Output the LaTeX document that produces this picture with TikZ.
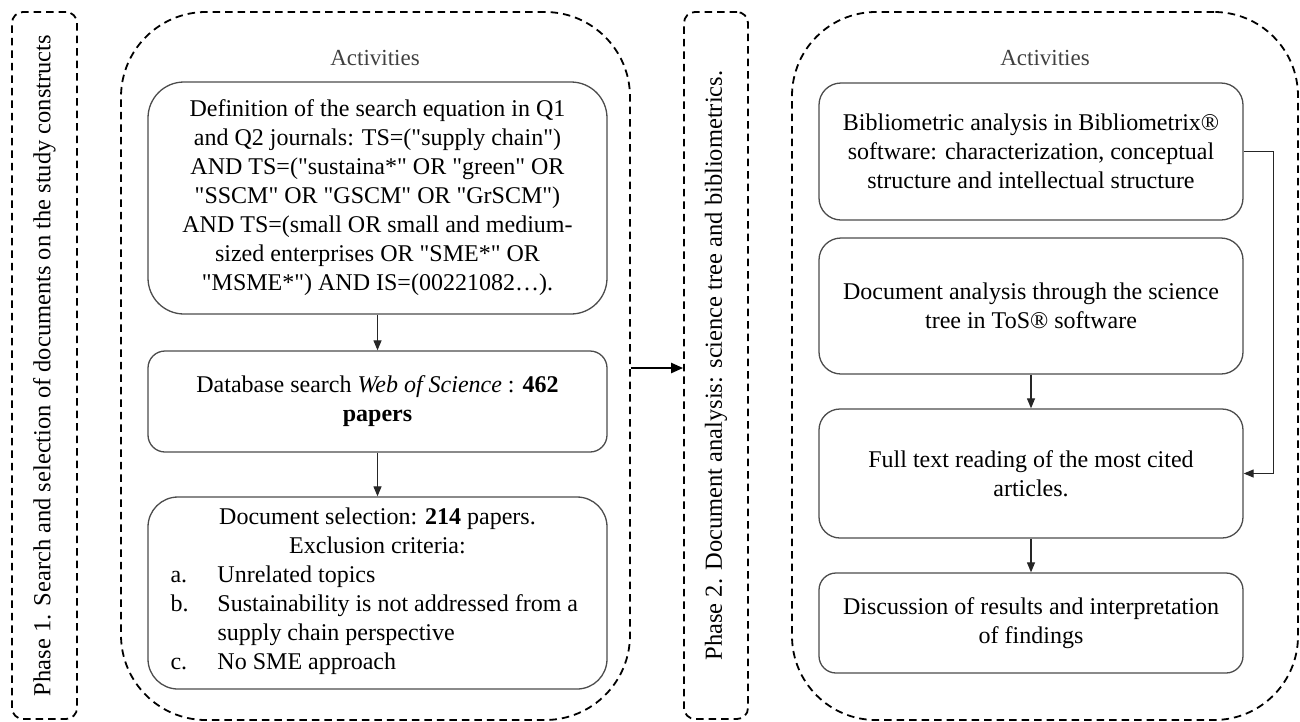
\documentclass[tikz,border=0pt]{standalone}
\usepackage{fontspec}
\setmainfont{Liberation Serif}[Ligatures=TeXOff]
\usetikzlibrary{arrows.meta,calc}
\begin{document}
\begin{tikzpicture}[x=1pt,y=-1pt,
 dashbox/.style={draw=black, line width=1.8pt, dash pattern=on 7.5pt off 5pt, inner sep=0pt},
 abox/.style={draw=black!70, line width=1.3pt, minimum width=459pt, inner sep=0pt, align=center, font=\fontsize{24}{29}\selectfont},
 bbox/.style={abox, minimum width=424pt},
 flow/.style={draw=black!85, line width=1.2pt, -{Triangle[length=10pt,width=8pt]}},
 titletext/.style={font=\fontsize{23}{28}\selectfont, text=black!75},
 phasefont/.style={font=\fontsize{24.5}{29}\selectfont}
]
\useasboundingbox (0,0) rectangle (1300,721);

% phase boxes
\node[dashbox, phasefont, rounded corners=11pt, minimum width=65pt, minimum height=707pt] (p1) at (44.5,365.5)
  {\rotatebox{90}{Phase 1. Search and selection of documents on the study constructs}};
\node[dashbox, phasefont, rounded corners=11pt, minimum width=64pt, minimum height=707pt] (p2) at (716,365.5)
  {\rotatebox{90}{Phase 2. Document analysis: science tree and bibliometrics.}};

% activity containers
\node[dashbox, rounded corners=85pt, minimum width=509pt, minimum height=708pt] (act1) at (375.5,366) {};
\node[dashbox, rounded corners=84pt, minimum width=506pt, minimum height=708pt] (act2) at (1045,366) {};
\node[titletext] (t1) at (375,58) {Activities};
\node[titletext] (t2) at (1045,58) {Activities};

% left column
\node[abox, rounded corners=36pt, minimum height=232pt] (a1) at (377.5,198)
  {Definition of the search equation in Q1\\
   and Q2 journals: TS=("supply chain")\\
   AND TS=("sustaina*" OR "green" OR\\
   "SSCM" OR "GSCM" OR "GrSCM")\\
   AND TS=(small OR small and medium-\\
   sized enterprises OR "SME*" OR\\
   "MSME*") AND IS=(00221082…).};
\node[abox, rounded corners=17pt, minimum height=101pt] (a2) at (377.5,401.5)
  {Database search \textit{Web of Science} : \textbf{462}\\ \textbf{papers}};
\node[abox, rounded corners=30pt, minimum height=192pt] (a3) at (377.5,593)
  {\begin{minipage}{430pt}\centering
   Document selection: \textbf{214} papers.\\
   Exclusion criteria:\par
   \begin{tabular}[t]{@{\hspace{8pt}}p{47pt}@{}p{375pt}@{}}
   a. & Unrelated topics\\
   b. & Sustainability is not addressed from a\newline supply chain perspective\\
   c. & No SME approach
   \end{tabular}
   \end{minipage}};

% right column
\node[bbox, rounded corners=22pt, minimum height=137pt] (b1) at (1031,151.5)
  {Bibliometric analysis in Bibliometrix®\\
   software: characterization, conceptual\\
   structure and intellectual structure};
\node[bbox, rounded corners=22pt, minimum height=136pt] (b2) at (1031,306)
  {Document analysis through the science\\ tree in ToS® software};
\node[bbox, rounded corners=21pt, minimum height=129pt] (b3) at (1031,473.5)
  {Full text reading of the most cited\\ articles.};
\node[bbox, rounded corners=17pt, minimum height=100pt] (b4) at (1031,623)
  {Discussion of results and interpretation\\ of findings};

% connectors
\draw[flow] (a1) -- (a2);
\draw[flow] (a2) -- (a3);
\draw[flow] (b2) -- (b3);
\draw[flow] (b3) -- (b4);
\draw[flow] (b1.east) -- ++(30,0) |- (b3.east);
\coordinate (ay) at (0,368);
\draw[line width=2.4pt, -{Triangle[length=12pt,width=10pt]}] (act1.east |- ay) -- (p2.west |- ay);
\end{tikzpicture}
\end{document}
